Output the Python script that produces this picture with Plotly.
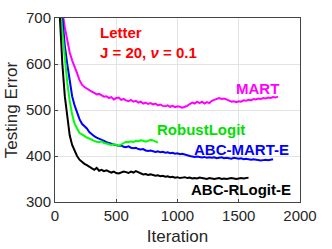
import plotly.graph_objects as go

# ---- data ----
mart_iter = list(range(20, 1821, 20))
mart_err = [850, 770, 715, 680, 650, 625, 608, 596, 580, 565, 555, 550, 546, 542, 540, 537, 534, 535, 531, 529,
            530, 526, 528, 523, 526, 527, 522, 524, 521, 519, 522, 518, 520, 516, 518, 514, 516, 513, 515, 512,
            514, 510, 512, 509, 508, 510, 507, 509, 506, 508, 507, 505, 507, 509, 513, 516, 514, 518, 515, 518,
            514, 517, 515, 520, 522, 524, 526, 524, 525, 523, 520, 518, 519, 517, 519, 518, 521, 520, 522, 521,
            524, 523, 525, 524, 526, 525, 527, 526, 528, 527, 529]

rlogit_iter = list(range(20, 1581, 20))
rlogit_err = [800, 690, 600, 530, 480, 445, 424, 410, 400, 392, 387, 383, 380, 376, 372, 370, 374, 368, 370, 367,
              369, 366, 364, 366, 363, 362, 364, 366, 365, 363, 366, 364, 367, 365, 362, 360, 361, 359, 360, 358,
              357, 358, 356, 357, 355, 356, 354, 355, 353, 354, 352, 353, 354, 352, 353, 351, 352, 351, 353, 352,
              351, 350, 352, 351, 350, 351, 352, 350, 351, 350, 351, 352, 351, 350, 351, 352, 351, 352, 353]

robust_iter = list(range(20, 841, 20))
robust_err = [820, 730, 670, 610, 560, 520, 490, 470, 458, 450, 447, 443, 440, 438, 435, 433, 431, 430, 432, 428,
              427, 425, 424, 426, 424, 422, 425, 428, 431, 430, 432, 430, 433, 432, 434, 433, 431, 433, 435, 434,
              431, 429]

abcmart_iter = list(range(20, 1781, 20))
abcmart_err = [880, 770, 700, 640, 600, 565, 530, 510, 495, 480, 470, 466, 460, 452, 447, 443, 440, 438, 436, 433,
               430, 428, 427, 425, 424, 422, 423, 420, 419, 421, 418, 417, 418, 415, 414, 415, 412, 411, 412, 410,
               409, 410, 408, 409, 407, 408, 406, 407, 405, 406, 404, 405, 403, 401, 400, 399, 398, 399, 398, 397,
               398, 396, 397, 396, 397, 395, 396, 397, 395, 396, 395, 394, 396, 395, 394, 395, 393, 394, 393, 392,
               393, 392, 391, 390, 391, 392, 391, 392, 393]

x_ticks = [0, 500, 1000, 1500, 2000]
y_ticks = [300, 400, 500, 600, 700]

FONT = "Liberation Sans, Arial, Helvetica, sans-serif"

fig = go.Figure()
series = [
    (mart_iter, mart_err, "#FF00FF"),
    (abcmart_iter, abcmart_err, "#0000FF"),
    (robust_iter, robust_err, "#00FF00"),
    (rlogit_iter, rlogit_err, "#000000"),
]
for xs, ys, col in series:
    fig.add_trace(go.Scatter(x=xs, y=ys, mode="lines", line=dict(color=col, width=2), showlegend=False))

ann = [
    ("<b>Letter</b>", 351, 669, "left", "#FF0000"),
    ("<b>J = 20, <i>ν</i> = 0.1</b>", 351, 626, "left", "#FF0000"),
    ("<b>MART</b>", 1845, 547, "right", "#FF00FF"),
    ("<b>RobustLogit</b>", 816, 457, "left", "#00E000"),
    ("<b>ABC-MART-E</b>", 1927, 415, "right", "#0000FF"),
    ("<b>ABC-RLogit-E</b>", 1943, 328, "right", "#000000"),
]
for t, x, y, xa, col in ann:
    fig.add_annotation(x=x, y=y, text=t, showarrow=False, xanchor=xa, yanchor="middle",
                       font=dict(family=FONT, size=15, color=col))

axis_common = dict(showgrid=True, gridcolor="#E3E3E3", gridwidth=1, showline=True, linecolor="#444444",
                   linewidth=1, mirror=True, ticks="inside", ticklen=3, tickcolor="#444444",
                   tickfont=dict(family=FONT, size=15, color="#262626"), zeroline=False, automargin=False)
fig.update_xaxes(range=[0, 2000], tickvals=x_ticks, title=dict(text="Iteration", standoff=7,
                 font=dict(family=FONT, size=17, color="#262626")), **axis_common)
fig.update_yaxes(range=[300, 700], tickvals=y_ticks, title=dict(text="Testing Error", standoff=4,
                 font=dict(family=FONT, size=17, color="#262626")), **axis_common)

fig.update_layout(width=332, height=249, margin=dict(l=55, r=32, t=18, b=47),
                  plot_bgcolor="white", paper_bgcolor="white")

fig.write_html("out.html", config={"displayModeBar": False},
               post_script="document.body.style.margin='0';document.body.style.overflow='hidden';")
